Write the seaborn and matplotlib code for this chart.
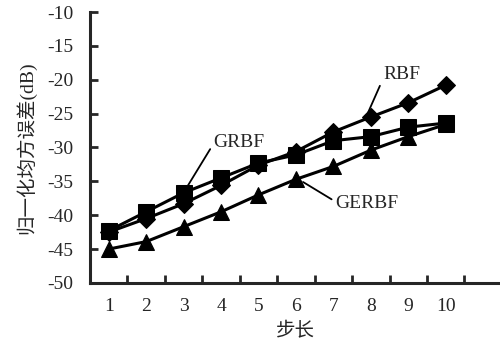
import matplotlib
matplotlib.use("Agg")
import matplotlib.pyplot as plt
import seaborn as sns
import pandas as pd

steps = [1, 2, 3, 4, 5, 6, 7, 8, 9, 10]
rbf = [-42.5, -40.5, -38.3, -35.6, -32.6, -30.6, -27.7, -25.5, -23.4, -20.8]
grbf = [-42.3, -39.5, -36.7, -34.5, -32.3, -31.1, -29.0, -28.4, -27.0, -26.4]
gerbf = [-45.0, -43.9, -41.7, -39.5, -37.0, -34.7, -32.8, -30.4, -28.4, -26.6]
yticks = [-10, -15, -20, -25, -30, -35, -40, -45, -50]
xlabel = "步长"
ylabel = "归一化均方误差(dB)"

sns.set_style("ticks")
plt.rcParams['font.family'] = ['Liberation Serif', 'Noto Sans CJK SC']

fig = plt.figure(figsize=(5.0, 3.48), dpi=100)
ax = fig.add_axes([0.18, 0.187, 0.82, 0.9655 - 0.187])

series = [("GERBF", gerbf, "^", 11), ("RBF", rbf, "D", 9), ("GRBF", grbf, "s", 11.5)]
for name, vals, mk, ms in series:
    df = pd.DataFrame({"step": steps, "val": vals})
    sns.lineplot(data=df, x="step", y="val", ax=ax, color="black", lw=2.2,
                 marker=mk, markersize=ms, markeredgecolor="black",
                 markerfacecolor="black", legend=False)

ax.set_xlim(0.5, 11.45)
ax.set_ylim(-50, -10)
ax.set_yticks(yticks)
ax.set_yticklabels([str(v) for v in yticks])
ax.set_xticks(steps)
ax.set_xticklabels([str(s) for s in steps])
ax.set_xticks([s + 0.5 for s in steps], minor=True)
ax.tick_params(axis='x', which='major', length=0, pad=11, labelsize=14)
ax.tick_params(axis='x', which='minor', direction='in', length=6, width=2)
ax.tick_params(axis='y', direction='in', length=6, width=2, pad=12, labelsize=14)

for s in ["top", "right"]:
    ax.spines[s].set_visible(False)
for s in ["left", "bottom"]:
    ax.spines[s].set_linewidth(2.2)

ax.set_xlabel(xlabel, fontsize=14, family=['Noto Sans CJK SC'], labelpad=4)
ax.set_ylabel(ylabel, fontsize=14, family=['Liberation Serif', 'Noto Sans CJK SC'], labelpad=8)

# annotations
ax.annotate("RBF", xy=(7.93, -24.8), xytext=(8.33, -19.3),
            fontsize=14, ha="left", va="center",
            arrowprops=dict(arrowstyle="-", color="black", lw=1.3, shrinkA=0, shrinkB=0,
                            relpos=(0.0, 0.3)))
ax.annotate("GRBF", xy=(3.04, -36.3), xytext=(4.48, -29.2),
            fontsize=14, ha="center", va="center",
            arrowprops=dict(arrowstyle="-", color="black", lw=1.3, shrinkA=0, shrinkB=0,
                            relpos=(0.0, 0.4)))
ax.annotate("GERBF", xy=(6.19, -35.1), xytext=(7.04, -38.2),
            fontsize=14, ha="left", va="center",
            arrowprops=dict(arrowstyle="-", color="black", lw=1.3, shrinkA=0, shrinkB=0,
                            relpos=(0.0, 0.6)))

fig.savefig("out.png", dpi=100)
